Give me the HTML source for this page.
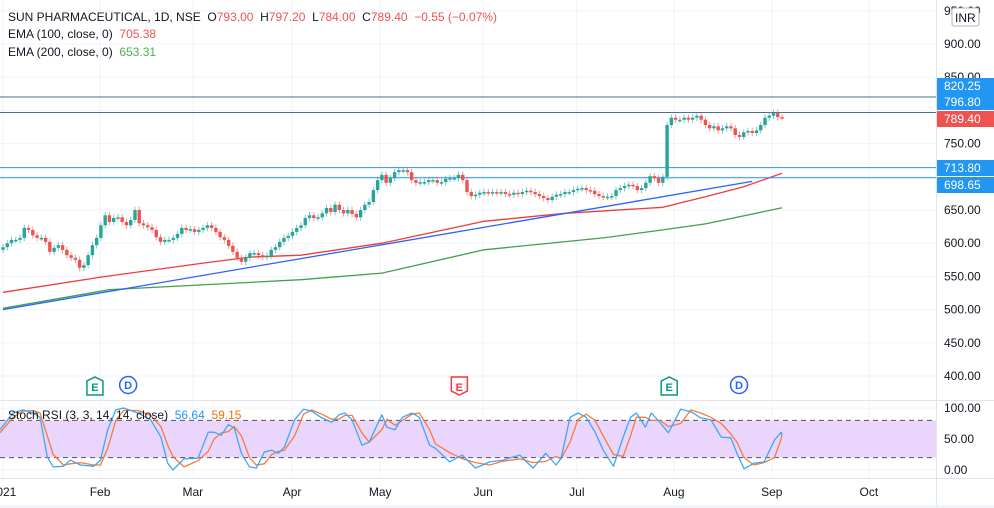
<!DOCTYPE html>
<html><head><meta charset="utf-8">
<style>
html,body{margin:0;padding:0;background:#fff;width:994px;height:508px;overflow:hidden;font-family:"Liberation Sans",sans-serif}
svg{display:block}
text{font-family:"Liberation Sans",sans-serif}
</style></head>
<body>
<svg id="chart" width="994" height="508" xmlns="http://www.w3.org/2000/svg"></svg>
<script>
const closes=[594,600,605,605,608,623,620,612,608,608,602,587,593,597,590,582,578,575,563,567,582,597,608,627,642,632,638,639,632,627,635,650,630,627,624,620,609,602,605,605,608,614,623,620,621,617,620,623,627,623,617,609,605,596,587,578,572,578,585,585,582,579,581,590,594,602,608,611,617,623,627,638,642,638,639,645,653,647,658,650,645,650,644,639,650,658,662,680,695,703,691,698,707,710,710,707,695,691,692,692,695,695,691,692,697,698,698,703,695,677,671,673,676,677,676,677,676,677,674,673,676,674,677,679,677,674,671,668,665,670,673,674,677,677,680,682,683,680,679,674,671,670,670,671,680,683,686,688,686,680,683,691,701,698,691,700,778,789,786,786,789,786,789,792,786,778,773,776,770,773,776,773,763,760,767,769,766,770,778,789,792,796,790,789.4];
const firstOpen=590;
const emaDays=[0,23,47,58,70,89,113,132,155,165,174,183];
const ema100=[526,549,570,579,582,600,633,645,654,670,685,705.38];
const ema200Days=[0,25,70,89,113,141,155,165,183];
const ema200=[502,530,545,555,590,608,620,629,653.31];
const trendDays=[0,176];
const trendVals=[500,693];
const hLevels=[820.25,796.8,713.8,698.65];
const priceTicks=[950,900,850,750,650,600,550,500,450,400];
const stochDays=[-0.7,2.4,4.7,7.1,8.7,10.4,11.8,14.2,15.8,18.2,21.3,22.9,24.6,26.5,28.3,31.7,34.7,37.1,38.7,39.9,42.5,45.8,48.2,49.6,51.3,52.9,54.3,56.0,57.9,59.5,61.4,63.1,64.7,66.1,68.5,70.6,72.5,74.9,77.2,78.9,80.3,82.0,84.3,86.0,89.0,90.2,92.1,93.8,96.1,97.8,100.2,101.6,104.9,107.9,111.0,114.3,117.4,121.4,124.5,127.5,129.9,131.1,133.2,135.1,137.0,139.1,141.0,143.4,145.7,147.4,148.8,150.9,152.3,154.4,156.3,159.2,161.6,163.9,166.3,168.7,171.0,172.4,174.1,176.4,178.8,181.2,182.8,183];
const stochK=[65,92,97,92,85,21,5,6,16,8,6,16,65,97,100,92,81,53,11,0,18,19,61,61,56,73,68,27,5,3,29,32,27,37,81,98,95,84,77,89,92,81,40,45,89,69,65,85,92,85,40,35,13,24,3,13,16,24,3,27,8,19,85,92,85,61,32,6,53,85,92,69,92,76,60,98,94,84,81,53,52,27,2,11,13,48,61,56.64];
const stochD=[60,85,95,96,92,55,25,8,10,12,8,8,35,80,96,96,88,70,40,22,5,15,30,50,60,62,70,55,20,8,10,25,30,32,55,90,97,90,82,82,88,88,60,45,65,82,72,80,90,92,65,42,28,18,12,8,14,18,12,14,22,18,45,82,90,80,55,25,22,55,85,85,80,80,70,75,97,92,85,75,58,45,20,8,12,20,50,59.15];
const monthLabels=["2021","Feb","Mar","Apr","May","Jun","Jul","Aug","Sep","Oct"];
const monthDays=[0,22.8,44.6,67.9,88.6,112.8,134.8,157.6,180.6,203.4];
const stochTicks=[100,50,0];

const NS="http://www.w3.org/2000/svg";
const svg=document.getElementById('chart');
const X=d=>3+d*4.257;
const PY=p=>376-(p-400)*0.664;
const SY=v=>470-v*0.62;
function el(tag,attrs,parent){const e=document.createElementNS(NS,tag);for(const k in attrs)e.setAttribute(k,attrs[k]);(parent||svg).appendChild(e);return e;}

const grid=el('g',{});


[950,900,850,800,750,700,650,600,550,500,450,400].forEach(p=>el('line',{x1:0,x2:936,y1:PY(p),y2:PY(p),stroke:'#f0f3fa'},grid));
stochTicks.forEach(v=>el('line',{x1:0,x2:936,y1:SY(v),y2:SY(v),stroke:'#f0f3fa'},grid));
monthDays.forEach(d=>{el('line',{x1:X(d),x2:X(d),y1:0,y2:478,stroke:'#f0f3fa'},grid);});

const band=el('rect',{x:0,y:SY(80),width:936,height:SY(20)-SY(80),fill:'#ead6fd'});


[80,20].forEach(v=>{const l=el('line',{x1:0,x2:936,y1:SY(v),y2:SY(v),stroke:'#555','stroke-dasharray':'5,4'});

});

function poly(days,vals,yf,color,name,w){const pts=days.map((d,i)=>X(d).toFixed(1)+','+yf(vals[i]).toFixed(1)).join(' ');
const p=el('polyline',{points:pts,fill:'none',stroke:color,'stroke-width':w||1.3,'stroke-linejoin':'round'});

return p;}
poly(ema200Days,ema200,PY,'#43a047','ema-200-line');
poly(emaDays,ema100,PY,'#ef3b36','ema-100-line');
poly(trendDays,trendVals,PY,'#2962ff','trend-line');

hLevels.forEach(v=>{const l=el('line',{x1:0,x2:936,y1:PY(v),y2:PY(v),stroke:v>790?'#4a6f8f':'#2196f3','stroke-width':1});

});

const cg=el('g',{});


closes.forEach((c,i)=>{const o=i===0?firstOpen:closes[i-1];const up=c>=o;const col=up?'#26a69a':'#ef5350';
const hi=Math.max(o,c)+5,lo=Math.min(o,c)-5;const x=X(i);
el('line',{x1:x,x2:x,y1:PY(hi),y2:PY(lo),stroke:col,'stroke-opacity':0.6},cg);
const top=PY(Math.max(o,c)),bot=PY(Math.min(o,c));
const b=el('rect',{x:x-1.7,y:top,width:3.4,height:Math.max(1.5,bot-top),fill:col},cg);

});

poly(stochDays,stochD,SY,'#f57c3a','stoch-d-line',1.3);
poly(stochDays,stochK,SY,'#42a5f5','stoch-k-line',1.3);

el('line',{x1:0,x2:994,y1:400.5,y2:400.5,stroke:'#e0e3eb'});
el('line',{x1:0,x2:994,y1:478.5,y2:478.5,stroke:'#e0e3eb'});
el('line',{x1:936.5,x2:936.5,y1:0,y2:508,stroke:'#e0e3eb'});
el('rect',{x:0,y:505,width:994,height:3,fill:'#f0f3fa'});

priceTicks.forEach(p=>{const t=el('text',{x:944,y:PY(p)+4,'font-size':12,fill:'#131722'});t.textContent=p.toFixed(2);

});
stochTicks.forEach(v=>{const t=el('text',{x:944,y:SY(v)+4,'font-size':12,fill:'#131722'});t.textContent=v.toFixed(2);

});
monthLabels.forEach((m,i)=>{const t=el('text',{x:X(monthDays[i]),y:496,'font-size':12,fill:'#131722','text-anchor':'middle'});t.textContent=m;

});

const boxes=[["820.25",78,'#2196f3'],["796.80",94,'#2196f3'],["789.40",111,'#ef5350'],["713.80",160,'#2196f3'],["698.65",177,'#2196f3']];
boxes.forEach(b=>{const r=el('rect',{x:937,y:b[1],width:57,height:16,fill:b[2]});


const t=el('text',{x:944,y:b[1]+12,'font-size':12,fill:'#fff'});t.textContent=b[0];});
const inr=el('rect',{x:952,y:8,width:27,height:18,fill:'#fff',stroke:'#b2b5be',rx:2});


const it=el('text',{x:955,y:22,'font-size':12,fill:'#131722'});it.textContent='INR';

function evE(d,color,down,name){const x=X(d);const g=el('g',{});


const y=377;const pts=down?`${x-8},${y} ${x+8},${y} ${x+8},${y+14} ${x},${y+18} ${x-8},${y+14}`:`${x-8},${y+18} ${x+8},${y+18} ${x+8},${y+4} ${x},${y} ${x-8},${y+4}`;
el('polygon',{points:pts,fill:'#fff',stroke:color,'stroke-width':1.5},g);
const t=el('text',{x:x,y:y+14,'font-size':11,'font-weight':'bold',fill:color,'text-anchor':'middle'},g);t.textContent='E';}
function evD(d,name){const x=X(d);const g=el('g',{});


el('circle',{cx:x,cy:385,r:8.5,fill:'#fff',stroke:'#2962ff','stroke-width':1.5},g);
const t=el('text',{x:x,y:389,'font-size':11,'font-weight':'bold',fill:'#2962ff','text-anchor':'middle'},g);t.textContent='D';}
evE(21.6,'#089981',false,'earnings-marker-feb');
evD(29.4,'dividend-marker-feb');
evE(107.2,'#f23645',true,'earnings-marker-may');
evE(156.5,'#089981',false,'earnings-marker-aug');
evD(172.9,'dividend-marker-aug');

const l1=el('text',{x:8,y:21,'font-size':12,fill:'#131722'});


l1.innerHTML='SUN PHARMACEUTICAL, 1D, NSE  O<tspan fill="#ef5350">793.00</tspan>  H<tspan fill="#ef5350">797.20</tspan>  L<tspan fill="#ef5350">784.00</tspan>  C<tspan fill="#ef5350">789.40</tspan>  <tspan fill="#ef5350">−0.55 (−0.07%)</tspan>';
l1.style.whiteSpace='pre';
const l2=el('text',{x:8,y:38,'font-size':12,fill:'#131722'});


l2.innerHTML='EMA (100, close, 0)  <tspan fill="#ef5350">705.38</tspan>';l2.style.whiteSpace='pre';
const l3=el('text',{x:8,y:56,'font-size':12,fill:'#131722'});


l3.innerHTML='EMA (200, close, 0)  <tspan fill="#4caf50">653.31</tspan>';l3.style.whiteSpace='pre';
const l4=el('text',{x:8,y:419,'font-size':12,fill:'#131722'});


l4.innerHTML='Stoch RSI (3, 3, 14, 14, close)  <tspan fill="#2196f3">56.64</tspan>  <tspan fill="#ff6d00">59.15</tspan>';l4.style.whiteSpace='pre';
</script>
</body></html>
